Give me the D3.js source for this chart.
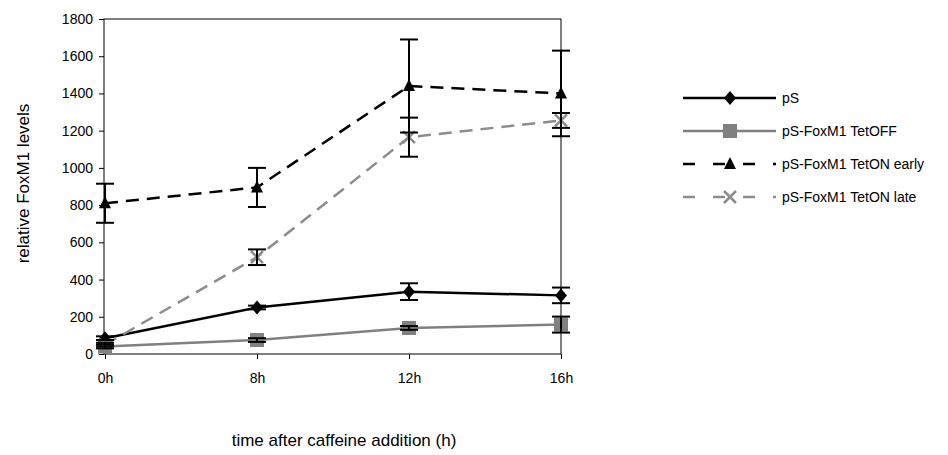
<!DOCTYPE html>
<html>
<head>
  <meta charset="UTF-8">
  <title>FoxM1 levels</title>
  <script src="https://d3js.org/d3.v7.min.js"></script>
  <style>
    body { margin: 0; background: #fff; }
    text { font-family: "Liberation Sans", Arial, sans-serif; fill: #000; }
    .tick text { font-size: 14px; }
    .axis-title { font-size: 17px; }
    .legend text { font-size: 14px; }
  </style>
</head>
<body>
  <div id="chart"></div>

  <script>
    // values
    const categories = ["0h", "8h", "12h", "16h"];
    const yTicks = [0, 200, 400, 600, 800, 1000, 1200, 1400, 1600, 1800];

    const seriesNames = ["pS", "pS-FoxM1 TetOFF", "pS-FoxM1 TetON early", "pS-FoxM1 TetON late"];
    const pS = [85, 250, 335, 315];
    const pSErr = [10, 10, 45, 42];
    const tetOff = [40, 75, 140, 158];
    const tetOffErr = [10, 10, 10, 43];
    const tetOnEarly = [810, 895, 1440, 1400];
    const tetOnEarlyErr = [105, 105, 250, 230];
    const tetOnLate = [50, 520, 1165, 1255];
    const tetOnLateErr = [10, 42, 105, 40];

    const styles = [
      { color: "#000", dash: null, marker: "diamond" },
      { color: "#808080", dash: null, marker: "square" },
      { color: "#000", dash: "13,8", marker: "triangle" },
      { color: "#8c8c8c", dash: "13,8", marker: "cross" }
    ];

    const series = seriesNames.map((name, i) => ({
      name,
      values: [pS, tetOff, tetOnEarly, tetOnLate][i],
      errors: [pSErr, tetOffErr, tetOnEarlyErr, tetOnLateErr][i],
      style: styles[i]
    }));

    const W = 948, H = 455;
    const plot = { left: 104, right: 561, top: 19, bottom: 354 };

    const svg = d3.select("#chart").append("svg")
      .attr("width", W)
      .attr("height", H);

    const x = d3.scalePoint()
      .domain(categories)
      .range([plot.left + 1, plot.right]);

    const y = d3.scaleLinear()
      .domain([0, 1800])
      .range([plot.bottom, plot.top]);

    // frame
    svg.append("rect")
      .attr("x", plot.left)
      .attr("y", plot.top)
      .attr("width", plot.right - plot.left)
      .attr("height", plot.bottom - plot.top)
      .attr("fill", "none")
      .attr("stroke", "#000")
      .attr("stroke-width", 1);

    const yAxis = svg.append("g")
      .attr("transform", `translate(${plot.left},0)`)
      .call(d3.axisLeft(y).tickValues(yTicks).tickSize(5).tickPadding(6).tickFormat(d3.format("d")));
    yAxis.select(".domain").remove();

    const xAxis = svg.append("g")
      .attr("transform", `translate(0,${plot.bottom})`)
      .call(d3.axisBottom(x).tickSize(5).tickPadding(14));
    xAxis.select(".domain").remove();

    // axis titles
    svg.append("text")
      .attr("class", "axis-title")
      .attr("transform", `translate(29,${(plot.top + plot.bottom) / 2 - 3}) rotate(-90)`)
      .attr("text-anchor", "middle")
      .text("relative FoxM1 levels");

    svg.append("text")
      .attr("class", "axis-title")
      .attr("x", 344)
      .attr("y", 446)
      .attr("text-anchor", "middle")
      .text("time after caffeine addition (h)");

    const line = d3.line()
      .x((d, i) => x(categories[i]))
      .y(d => y(d));

    function drawMarker(g, type, color, cx, cy) {
      if (type === "diamond") {
        g.append("path")
          .attr("d", `M${cx},${cy - 7}L${cx + 6},${cy}L${cx},${cy + 7}L${cx - 6},${cy}Z`)
          .attr("fill", color);
      } else if (type === "square") {
        g.append("rect")
          .attr("x", cx - 7).attr("y", cy - 7)
          .attr("width", 14).attr("height", 14)
          .attr("fill", color);
      } else if (type === "triangle") {
        g.append("path")
          .attr("d", `M${cx},${cy - 7}L${cx + 6},${cy + 5}L${cx - 6},${cy + 5}Z`)
          .attr("fill", color);
      } else {
        g.append("path")
          .attr("d", `M${cx - 6},${cy - 6}L${cx + 6},${cy + 6}M${cx - 6},${cy + 6}L${cx + 6},${cy - 6}`)
          .attr("stroke", color)
          .attr("stroke-width", 2.5)
          .attr("fill", "none");
      }
    }

    // lines
    series.forEach(s => {
      svg.append("path")
        .datum(s.values)
        .attr("d", line)
        .attr("fill", "none")
        .attr("stroke", s.style.color)
        .attr("stroke-width", 2.5)
        .attr("stroke-dasharray", s.style.dash);
    });

    // markers
    series.forEach(s => {
      const g = svg.append("g");
      s.values.forEach((v, i) => drawMarker(g, s.style.marker, s.style.color, x(categories[i]), y(v)));
    });

    // error bars (black)
    const cap = 9;
    series.forEach(s => {
      const g = svg.append("g").attr("stroke", "#000").attr("stroke-width", 2);
      s.values.forEach((v, i) => {
        const cx = x(categories[i]);
        const hi = y(v + s.errors[i]);
        const lo = y(v - s.errors[i]);
        g.append("line").attr("x1", cx).attr("x2", cx).attr("y1", hi).attr("y2", lo);
        g.append("line").attr("x1", cx - cap).attr("x2", cx + cap).attr("y1", hi).attr("y2", hi);
        g.append("line").attr("x1", cx - cap).attr("x2", cx + cap).attr("y1", lo).attr("y2", lo);
      });
    });

    // legend
    const legend = svg.append("g").attr("class", "legend");
    series.forEach((s, i) => {
      const ly = 98 + i * 33;
      const row = legend.append("g");
      row.append("line")
        .attr("x1", 683).attr("x2", 776)
        .attr("y1", ly).attr("y2", ly)
        .attr("stroke", s.style.color)
        .attr("stroke-width", 2.5)
        .attr("stroke-dasharray", s.style.dash ? "12,18" : null);
      drawMarker(row, s.style.marker, s.style.color, 730, ly);
      row.append("text")
        .attr("x", 782)
        .attr("y", ly)
        .attr("dy", "0.35em")
        .text(s.name);
    });
  </script>
</body>
</html>
